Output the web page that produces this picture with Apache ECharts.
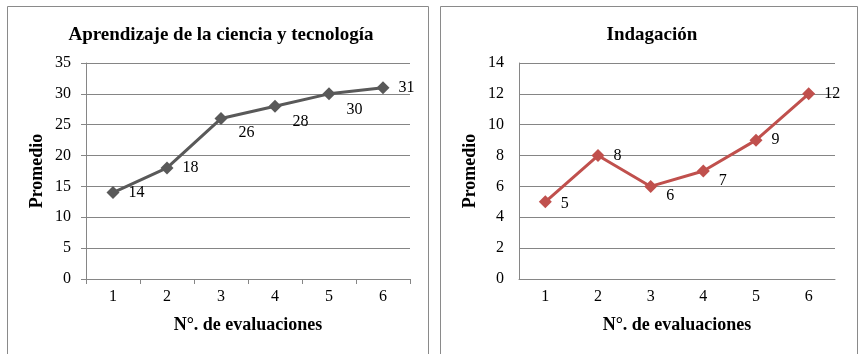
<!DOCTYPE html>
<html>
<head>
<meta charset="utf-8">
<script src="https://cdn.jsdelivr.net/npm/echarts@6/dist/echarts.min.js"></script>
<style>
  html, body { margin: 0; padding: 0; background: #fff; }
  #chart { width: 859px; height: 354px; }
</style>
</head>
<body>
<div id="chart"></div>
<script>
// Evaluation numbers shared by both panels
const evaluaciones = ['1', '2', '3', '4', '5', '6'];
// Average scores per evaluation
const aprendizaje = [14, 18, 26, 28, 30, 31];
const indagacion = [5, 8, 6, 7, 9, 12];

const titles = ['Aprendizaje de la ciencia y tecnología', 'Indagación'];
const yName = 'Promedio';
const xName = 'N°. de evaluaciones';

// Per-point label nudges (pixels) so numbers sit beside or below the markers
const leftLabelOffsets = [[0, 0], [0, 0], [2, 14], [2, 16], [2, 16], [0, 0]];
const rightLabelOffsets = [[0, 2], [0, 0], [0, 9], [0, 10], [0, 0], [0, 0]];

const serif = '"Liberation Serif", "DejaVu Serif", serif';

function withLabels(values, offsets) {
  return values.map((v, i) => ({ value: v, label: { offset: offsets[i] } }));
}

function xAxis(gridIndex, showTicks) {
  return {
    type: 'category',
    gridIndex,
    data: evaluaciones,
    boundaryGap: true,
    name: xName,
    nameLocation: 'middle',
    nameGap: 37,
    nameTextStyle: { fontFamily: serif, fontWeight: 'bold', fontSize: 18, color: '#000' },
    axisLine: { lineStyle: { color: '#868686', width: 1 } },
    axisTick: { show: showTicks, alignWithLabel: false, length: 5, lineStyle: { color: '#868686' } },
    axisLabel: { fontFamily: serif, fontSize: 16, color: '#000', margin: 10 },
    splitLine: { show: false }
  };
}

function yAxis(gridIndex, max, interval, showTicks) {
  return {
    type: 'value',
    gridIndex,
    min: 0,
    max,
    interval,
    name: yName,
    nameLocation: 'middle',
    nameGap: 40,
    nameRotate: 90,
    nameTextStyle: { fontFamily: serif, fontWeight: 'bold', fontSize: 18, color: '#000' },
    axisLine: { show: true, lineStyle: { color: '#868686', width: 1 } },
    axisTick: { show: showTicks, length: 5, lineStyle: { color: '#868686' } },
    axisLabel: { fontFamily: serif, fontSize: 16, color: '#000', margin: 15 },
    splitLine: { show: true, lineStyle: { color: '#858585', width: 1 } }
  };
}

const chart = echarts.init(document.getElementById('chart'), null, { renderer: 'canvas' });
chart.setOption({
  backgroundColor: '#fff',
  animation: false,
  graphic: [
    { type: 'rect', shape: { x: 7.5, y: 6.5, width: 421, height: 360 }, style: { fill: 'none', stroke: '#8a8a8a', lineWidth: 1 }, z: -1 },
    { type: 'rect', shape: { x: 440.5, y: 6.5, width: 417, height: 360 }, style: { fill: 'none', stroke: '#8a8a8a', lineWidth: 1 }, z: -1 }
  ],
  title: [
    { text: titles[0], left: 216, top: 21, textAlign: 'center', textStyle: { fontFamily: serif, fontWeight: 'bold', fontSize: 19, color: '#000' } },
    { text: titles[1], left: 647, top: 21, textAlign: 'center', textStyle: { fontFamily: serif, fontWeight: 'bold', fontSize: 19, color: '#000' } }
  ],
  grid: [
    { left: 86, top: 63, width: 324, height: 216 },
    { left: 519, top: 63, width: 316, height: 216 }
  ],
  xAxis: [xAxis(0, true), xAxis(1, false)],
  yAxis: [yAxis(0, 35, 5, true), yAxis(1, 14, 2, false)],
  series: [
    {
      type: 'line',
      xAxisIndex: 0,
      yAxisIndex: 0,
      data: withLabels(aprendizaje, leftLabelOffsets),
      symbol: 'diamond',
      symbolSize: 13,
      lineStyle: { color: '#595959', width: 3 },
      itemStyle: { color: '#595959' },
      label: { show: true, position: 'right', distance: 9, fontFamily: serif, fontSize: 16, color: '#000' }
    },
    {
      type: 'line',
      xAxisIndex: 1,
      yAxisIndex: 1,
      data: withLabels(indagacion, rightLabelOffsets),
      symbol: 'diamond',
      symbolSize: 13,
      lineStyle: { color: '#C0504D', width: 3 },
      itemStyle: { color: '#C0504D' },
      label: { show: true, position: 'right', distance: 9, fontFamily: serif, fontSize: 16, color: '#000' }
    }
  ]
});
</script>
</body>
</html>
